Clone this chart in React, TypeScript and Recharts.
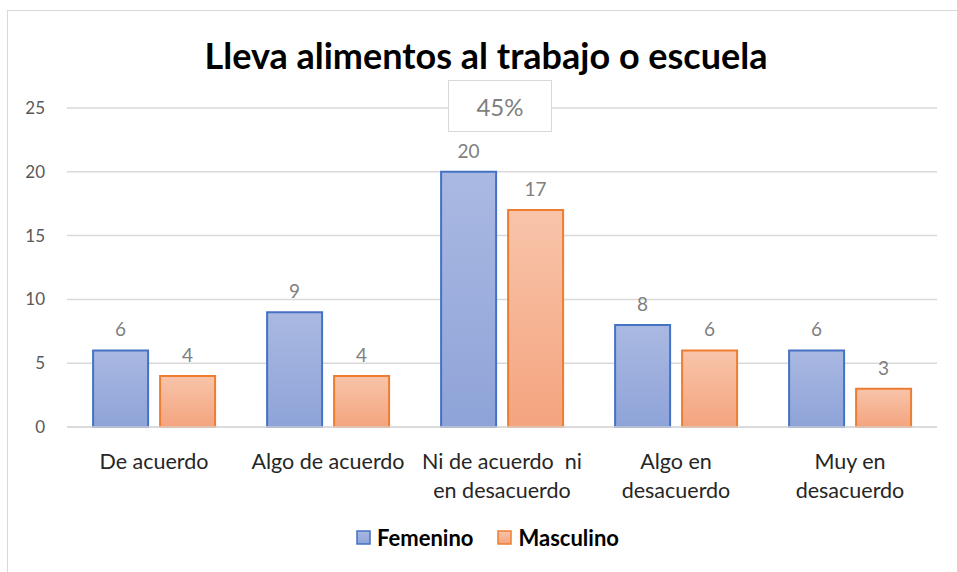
import React from "react";
import { Bar, BarChart, CartesianGrid, LabelList, Legend, XAxis, YAxis } from "recharts";

const categories = ["De acuerdo", "Algo de acuerdo", "Ni de acuerdo  ni|en desacuerdo", "Algo en|desacuerdo", "Muy en|desacuerdo"];
const femenino = [6, 9, 20, 8, 6];
const masculino = [4, 4, 17, 6, 3];
const yTicks = [0, 5, 10, 15, 20, 25];

const data = categories.map((c, i) => ({ name: c, femenino: femenino[i], masculino: masculino[i] }));

const FONT = "Lato, 'Open Sans', sans-serif";

function CategoryTick(props: any) {
  const { x, y, payload } = props;
  const lines = String(payload.value).split("|");
  return (
    <text x={x} y={y} textAnchor="middle" fontFamily={FONT} fontSize={21.5} fill="#262626">
      {lines.map((l, i) => (
        <tspan key={i} x={x} dy={i === 0 ? 34 : 29} style={{ whiteSpace: "pre" }}>
          {l}
        </tspan>
      ))}
    </text>
  );
}

function LegendContent() {
  const items = [
    { label: "Femenino", fill: "url(#gFem)", stroke: "#4472c4" },
    { label: "Masculino", fill: "url(#gMas)", stroke: "#ed7d31" },
  ];
  return (
    <div style={{ display: "flex", justifyContent: "center", gap: 24, fontFamily: FONT, fontWeight: 700, fontSize: 22, color: "#000", paddingLeft: 38 }}>
      {items.map((it) => (
        <div key={it.label} style={{ display: "flex", alignItems: "center", gap: 6 }}>
          <svg width={15} height={15}>
            <rect x={1} y={1} width={13} height={13} fill={it.fill} stroke={it.stroke} strokeWidth={1.5} />
          </svg>
          <span>{it.label}</span>
        </div>
      ))}
    </div>
  );
}

export default function App() {
  return (
    <div style={{ position: "absolute", left: 0, top: 0, width: 957, height: 572, overflow: "hidden", background: "#fff" }}>
      <div style={{ position: "absolute", left: 7, top: 10, width: 970, height: 600, border: "1px solid #d9d9d9" }} />
      <div style={{ position: "absolute", left: 0, top: 33, width: 972, textAlign: "center", fontFamily: FONT, fontWeight: 700, fontSize: 36, color: "#000" }}>
        Lleva alimentos al trabajo o escuela
      </div>
      <BarChart
        width={957}
        height={572}
        data={data}
        margin={{ top: 108, right: 20, left: 0, bottom: 20 }}
        barCategoryGap="15%"
        barGap={12}
        style={{ position: "absolute", left: 0, top: 0 }}
      >
        <defs>
          <linearGradient id="gFem" x1="0" y1="0" x2="0" y2="1">
            <stop offset="0%" stopColor="#aab9e2" />
            <stop offset="100%" stopColor="#8ea3d8" />
          </linearGradient>
          <linearGradient id="gMas" x1="0" y1="0" x2="0" y2="1">
            <stop offset="0%" stopColor="#f8c4aa" />
            <stop offset="100%" stopColor="#f4a47e" />
          </linearGradient>
        </defs>
        <CartesianGrid vertical={false} stroke="#d9d9d9" strokeWidth={1.5} />
        <XAxis
          dataKey="name"
          height={89}
          axisLine={{ stroke: "#d9d9d9", strokeWidth: 1.5 }}
          tickLine={false}
          interval={0}
          tick={<CategoryTick />}
        />
        <YAxis
          domain={[0, 25]}
          ticks={yTicks}
          width={67}
          axisLine={false}
          tickLine={false}
          tickSize={0}
          tickMargin={22}
          tick={{ fontFamily: FONT, fontSize: 17, fill: "#595959" }}
        />
        <Legend
          verticalAlign="bottom"
          height={36}
          content={<LegendContent />}
          wrapperStyle={{ top: 524, bottom: "auto" }}
        />
        <Bar dataKey="femenino" name="Femenino" fill="url(#gFem)" stroke="#4472c4" strokeWidth={2} isAnimationActive={false}>
          <LabelList dataKey="femenino" position="top" offset={14} fontFamily={FONT} fontSize={19} fill="#7f7f7f" />
        </Bar>
        <Bar dataKey="masculino" name="Masculino" fill="url(#gMas)" stroke="#ed7d31" strokeWidth={2} isAnimationActive={false}>
          <LabelList dataKey="masculino" position="top" offset={14} fontFamily={FONT} fontSize={19} fill="#7f7f7f" />
        </Bar>
      </BarChart>
      <div
        style={{
          position: "absolute",
          left: 448,
          top: 80,
          width: 102,
          height: 50,
          border: "1.5px solid #d9d9d9",
          background: "#fff",
          display: "flex",
          alignItems: "center",
          justifyContent: "center",
          fontFamily: FONT,
          fontSize: 24,
          color: "#7f7f7f",
        }}
      >
        45%
      </div>
    </div>
  );
}
